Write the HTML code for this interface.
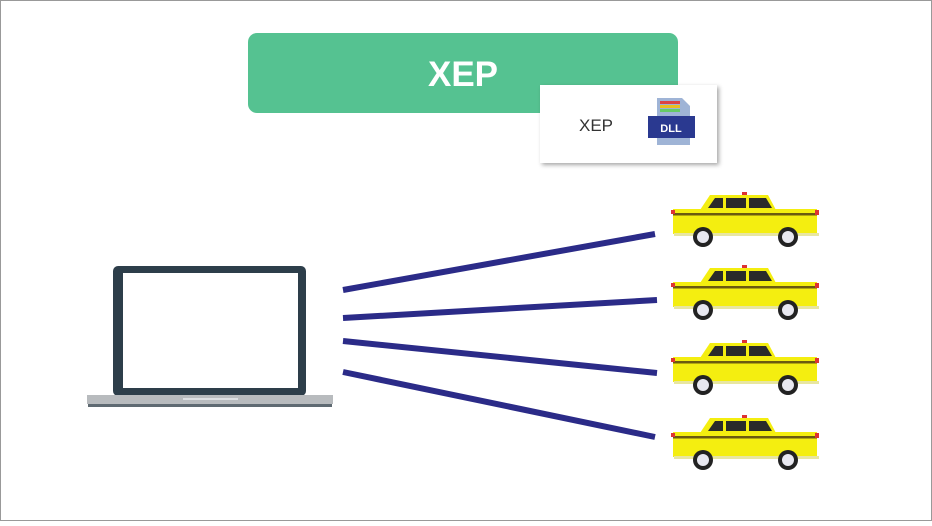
<!DOCTYPE html>
<html><head><meta charset="utf-8"><style>
html,body{margin:0;padding:0;background:#fff;}
body{width:932px;height:521px;overflow:hidden;}
</style></head><body>
<svg width="932" height="521" viewBox="0 0 932 521" xmlns="http://www.w3.org/2000/svg">
<defs>
<filter id="sh" x="-10%" y="-10%" width="130%" height="130%"><feDropShadow dx="2" dy="2" stdDeviation="2" flood-color="#000" flood-opacity="0.35"/></filter>
<g id="car">
<path d="M30,18 L40,3 L98,3 L106,18 Z" fill="#f4ee10"/>
<path d="M38,16 L45,6 L53,6 L53,16 Z" fill="#2a2a2a"/>
<rect x="56" y="6" width="20" height="10" fill="#2a2a2a"/>
<path d="M79,6 L96,6 L102,16 L79,16 Z" fill="#2a2a2a"/>
<rect x="72" y="0" width="5" height="3" fill="#d33"/>
<rect x="3" y="17" width="144" height="25" fill="#f4ee10"/>
<rect x="3" y="21" width="144" height="2.5" fill="#6b5a10"/>
<rect x="1" y="18" width="4" height="4" fill="#d33"/>
<rect x="145" y="18" width="4" height="5" fill="#d33"/>
<rect x="4" y="41" width="145" height="3" fill="#e8e6a0"/>
<circle cx="33" cy="45" r="10" fill="#222"/><circle cx="33" cy="45" r="6" fill="#e8e8f0"/>
<circle cx="118" cy="45" r="10" fill="#222"/><circle cx="118" cy="45" r="6" fill="#e8e8f0"/>
</g>
</defs>
<rect x="0.5" y="0.5" width="931" height="520" fill="#fff" stroke="#999"/>
<rect x="248" y="33" width="430" height="80" rx="9" fill="#55c291"/>
<text x="463" y="86" text-anchor="middle" font-family="Liberation Sans, sans-serif" font-weight="bold" font-size="35" fill="#fff">XEP</text>
<rect x="540" y="85" width="177" height="78" fill="#fff" filter="url(#sh)"/>
<text x="596" y="131" text-anchor="middle" font-family="Liberation Sans, sans-serif" font-size="17" fill="#333">XEP</text>
<path d="M657,98 L682,98 L690,106 L690,145 L657,145 Z" fill="#9fb4d6"/>
<rect x="660" y="101" width="20" height="3" fill="#d44"/>
<rect x="660" y="105" width="20" height="3" fill="#e8c020"/>
<rect x="660" y="109" width="20" height="3" fill="#6c6"/>
<rect x="648" y="116" width="47" height="22" fill="#2a3990"/>
<text x="671" y="132" text-anchor="middle" font-family="Liberation Sans, sans-serif" font-weight="bold" font-size="11" fill="#fff">DLL</text>
<rect x="113" y="266" width="193" height="130" rx="5" fill="#2d3e4a"/>
<rect x="123" y="273" width="175" height="115" fill="#fff"/>
<rect x="87" y="395" width="246" height="9" fill="#b8bbbe"/>
<rect x="88" y="404" width="244" height="3" fill="#5f6a72"/>
<rect x="183" y="398" width="55" height="2" fill="#dcdfe2"/>
<g stroke="#2b2b88" stroke-width="6" stroke-linecap="butt">
<line x1="343" y1="290" x2="655" y2="234"/>
<line x1="343" y1="318" x2="657" y2="300"/>
<line x1="343" y1="341" x2="657" y2="373"/>
<line x1="343" y1="372" x2="655" y2="437"/>
</g>
<use href="#car" x="670" y="192"/>
<use href="#car" x="670" y="265"/>
<use href="#car" x="670" y="340"/>
<use href="#car" x="670" y="415"/>
</svg>
</body></html>
